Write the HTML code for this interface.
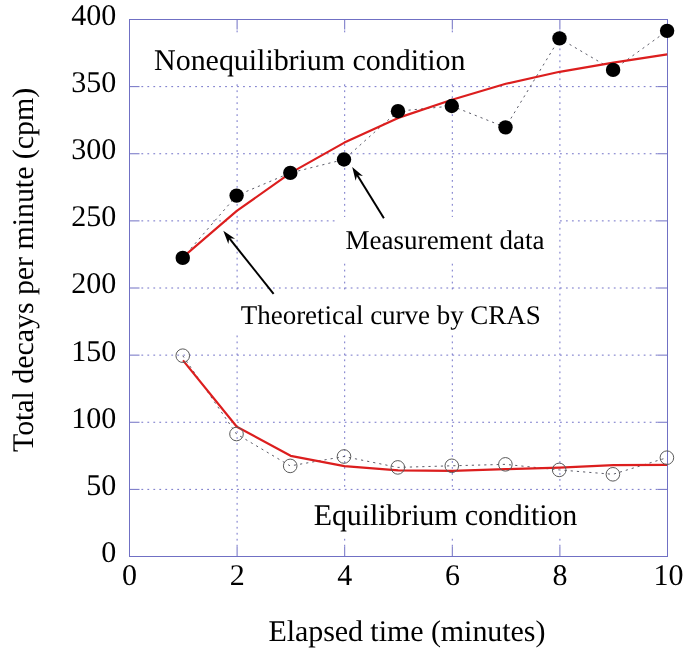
<!DOCTYPE html>
<html><head><meta charset="utf-8"><style>
html,body{margin:0;padding:0;background:#fff;}
body{width:685px;height:653px;overflow:hidden;}
svg{display:block;will-change:transform;}
text{font-family:"Liberation Serif",serif;fill:#000;text-rendering:geometricPrecision;}
</style></head><body>
<svg width="685" height="653" viewBox="0 0 685 653">
<rect width="685" height="653" fill="#fff"/>

<g stroke="#7373c8" stroke-width="1" stroke-dasharray="1.8 4.18" fill="none">
<line x1="141.4" y1="489.375" x2="657.5" y2="489.375"/>
<line x1="141.4" y1="422.25" x2="657.5" y2="422.25"/>
<line x1="141.4" y1="355.125" x2="657.5" y2="355.125"/>
<line x1="141.4" y1="288.0" x2="657.5" y2="288.0"/>
<line x1="141.4" y1="220.875" x2="657.5" y2="220.875"/>
<line x1="141.4" y1="153.75" x2="657.5" y2="153.75"/>
<line x1="141.4" y1="86.625" x2="657.5" y2="86.625"/>
<line x1="237.1" y1="30.5" x2="237.1" y2="546.5"/>
<line x1="344.7" y1="30.5" x2="344.7" y2="546.5"/>
<line x1="452.29999999999995" y1="30.5" x2="452.29999999999995" y2="546.5"/>
<line x1="559.9" y1="30.5" x2="559.9" y2="546.5"/>
</g>
<rect x="148" y="35" width="322" height="49" fill="#fff"/>
<rect x="338" y="217" width="218" height="45" fill="#fff"/>
<rect x="234" y="290" width="312" height="45" fill="#fff"/>
<rect x="308" y="491" width="276" height="47" fill="#fff"/>
<g stroke="#7070c4" stroke-width="1">
<line x1="129.5" y1="489.375" x2="139.5" y2="489.375"/>
<line x1="667.5" y1="489.375" x2="657.5" y2="489.375"/>
<line x1="129.5" y1="422.25" x2="139.5" y2="422.25"/>
<line x1="667.5" y1="422.25" x2="657.5" y2="422.25"/>
<line x1="129.5" y1="355.125" x2="139.5" y2="355.125"/>
<line x1="667.5" y1="355.125" x2="657.5" y2="355.125"/>
<line x1="129.5" y1="288.0" x2="139.5" y2="288.0"/>
<line x1="667.5" y1="288.0" x2="657.5" y2="288.0"/>
<line x1="129.5" y1="220.875" x2="139.5" y2="220.875"/>
<line x1="667.5" y1="220.875" x2="657.5" y2="220.875"/>
<line x1="129.5" y1="153.75" x2="139.5" y2="153.75"/>
<line x1="667.5" y1="153.75" x2="657.5" y2="153.75"/>
<line x1="129.5" y1="86.625" x2="139.5" y2="86.625"/>
<line x1="667.5" y1="86.625" x2="657.5" y2="86.625"/>
<line x1="237.1" y1="556.5" x2="237.1" y2="546.5"/>
<line x1="237.1" y1="19.5" x2="237.1" y2="29.5"/>
<line x1="344.7" y1="556.5" x2="344.7" y2="546.5"/>
<line x1="344.7" y1="19.5" x2="344.7" y2="29.5"/>
<line x1="452.29999999999995" y1="556.5" x2="452.29999999999995" y2="546.5"/>
<line x1="452.29999999999995" y1="19.5" x2="452.29999999999995" y2="29.5"/>
<line x1="559.9" y1="556.5" x2="559.9" y2="546.5"/>
<line x1="559.9" y1="19.5" x2="559.9" y2="29.5"/>
</g>
<rect x="129.5" y="19.5" width="538.0" height="537.0" fill="none" stroke="#7070c4" stroke-width="1"/>
<polyline points="182.75,257.90 236.60,195.60 290.30,172.90 344.00,159.50 398.00,111.20 451.80,106.00 505.50,127.35 559.50,38.40 613.10,69.90 667.10,30.85" fill="none" stroke="#5c5c68" stroke-width="1" stroke-dasharray="2.2 4"/>
<polyline points="182.75,355.70 236.50,434.00 290.20,465.90 344.00,456.50 397.80,467.40 451.80,465.80 505.40,464.35 559.20,469.90 612.90,474.30 666.90,457.70" fill="none" stroke="#5c5c68" stroke-width="1" stroke-dasharray="2.2 4"/>
<polyline points="183.00,257.10 236.80,210.90 290.60,172.90 344.40,142.60 398.20,117.90 452.00,99.80 505.80,83.80 559.60,71.80 613.40,62.60 667.20,54.30" fill="none" stroke="#dc1e1e" stroke-width="2.2" stroke-linejoin="round"/>
<polyline points="183.00,360.40 236.80,426.70 290.60,455.80 344.40,466.20 398.20,470.40 452.00,470.80 505.80,469.10 559.60,467.60 613.40,465.10 667.20,464.90" fill="none" stroke="#dc1e1e" stroke-width="2.2" stroke-linejoin="round"/>
<circle cx="182.75" cy="257.9" r="7.2" fill="#000"/>
<circle cx="236.6" cy="195.6" r="7.2" fill="#000"/>
<circle cx="290.3" cy="172.9" r="7.2" fill="#000"/>
<circle cx="344" cy="159.5" r="7.2" fill="#000"/>
<circle cx="398" cy="111.2" r="7.2" fill="#000"/>
<circle cx="451.8" cy="106" r="7.2" fill="#000"/>
<circle cx="505.5" cy="127.35" r="7.2" fill="#000"/>
<circle cx="559.5" cy="38.4" r="7.2" fill="#000"/>
<circle cx="613.1" cy="69.9" r="7.2" fill="#000"/>
<circle cx="667.1" cy="30.85" r="7.2" fill="#000"/>
<circle cx="182.75" cy="355.7" r="6.8" fill="none" stroke="#5a5a5a" stroke-width="1"/>
<circle cx="236.5" cy="434" r="6.8" fill="none" stroke="#5a5a5a" stroke-width="1"/>
<circle cx="290.2" cy="465.9" r="6.8" fill="none" stroke="#5a5a5a" stroke-width="1"/>
<circle cx="344" cy="456.5" r="6.8" fill="none" stroke="#5a5a5a" stroke-width="1"/>
<circle cx="397.8" cy="467.4" r="6.8" fill="none" stroke="#5a5a5a" stroke-width="1"/>
<circle cx="451.8" cy="465.8" r="6.8" fill="none" stroke="#5a5a5a" stroke-width="1"/>
<circle cx="505.4" cy="464.35" r="6.8" fill="none" stroke="#5a5a5a" stroke-width="1"/>
<circle cx="559.2" cy="469.9" r="6.8" fill="none" stroke="#5a5a5a" stroke-width="1"/>
<circle cx="612.9" cy="474.3" r="6.8" fill="none" stroke="#5a5a5a" stroke-width="1"/>
<circle cx="666.9" cy="457.7" r="6.8" fill="none" stroke="#5a5a5a" stroke-width="1"/>
<line x1="383.9" y1="218.2" x2="357.19" y2="174.98" stroke="#000" stroke-width="2"/><path d="M352.2,166.9 L362.95,176.12 L357.19,174.98 L355.64,180.64 Z" fill="#000"/>
<line x1="273.6" y1="293.8" x2="229.23" y2="238.22" stroke="#000" stroke-width="2"/><path d="M223.3,230.8 L235.08,238.67 L229.23,238.22 L228.36,244.03 Z" fill="#000"/>
<g font-size="30">
<text x="116.2" y="561.9" text-anchor="end">0</text>
<text x="116.2" y="494.8" text-anchor="end">50</text>
<text x="116.2" y="427.6" text-anchor="end">100</text>
<text x="116.2" y="360.5" text-anchor="end">150</text>
<text x="116.2" y="293.4" text-anchor="end">200</text>
<text x="116.2" y="226.3" text-anchor="end">250</text>
<text x="116.2" y="159.2" text-anchor="end">300</text>
<text x="116.2" y="92.0" text-anchor="end">350</text>
<text x="116.2" y="24.9" text-anchor="end">400</text>
<text x="129.6" y="584.9" text-anchor="middle">0</text>
<text x="237.2" y="584.9" text-anchor="middle">2</text>
<text x="344.8" y="584.9" text-anchor="middle">4</text>
<text x="452.4" y="584.9" text-anchor="middle">6</text>
<text x="560.0" y="584.9" text-anchor="middle">8</text>
<text x="668.4" y="584.9" text-anchor="middle">10</text>
<text x="154.1" y="70.3" textLength="311.4" lengthAdjust="spacing">Nonequilibrium condition</text>
<text x="313.7" y="525" textLength="263.6" lengthAdjust="spacing">Equilibrium condition</text>
<text x="268.4" y="641" textLength="277.0" lengthAdjust="spacing">Elapsed time (minutes)</text>
<text transform="translate(32.8,452) rotate(-90)" textLength="364.2" lengthAdjust="spacing">Total decays per minute (cpm)</text>
</g>
<g font-size="27">
<text x="345.6" y="248.6" textLength="198.8" lengthAdjust="spacing">Measurement data</text>
<text x="240.8" y="324.0" textLength="300.0" lengthAdjust="spacing">Theoretical curve by CRAS</text>
</g>
</svg></body></html>
